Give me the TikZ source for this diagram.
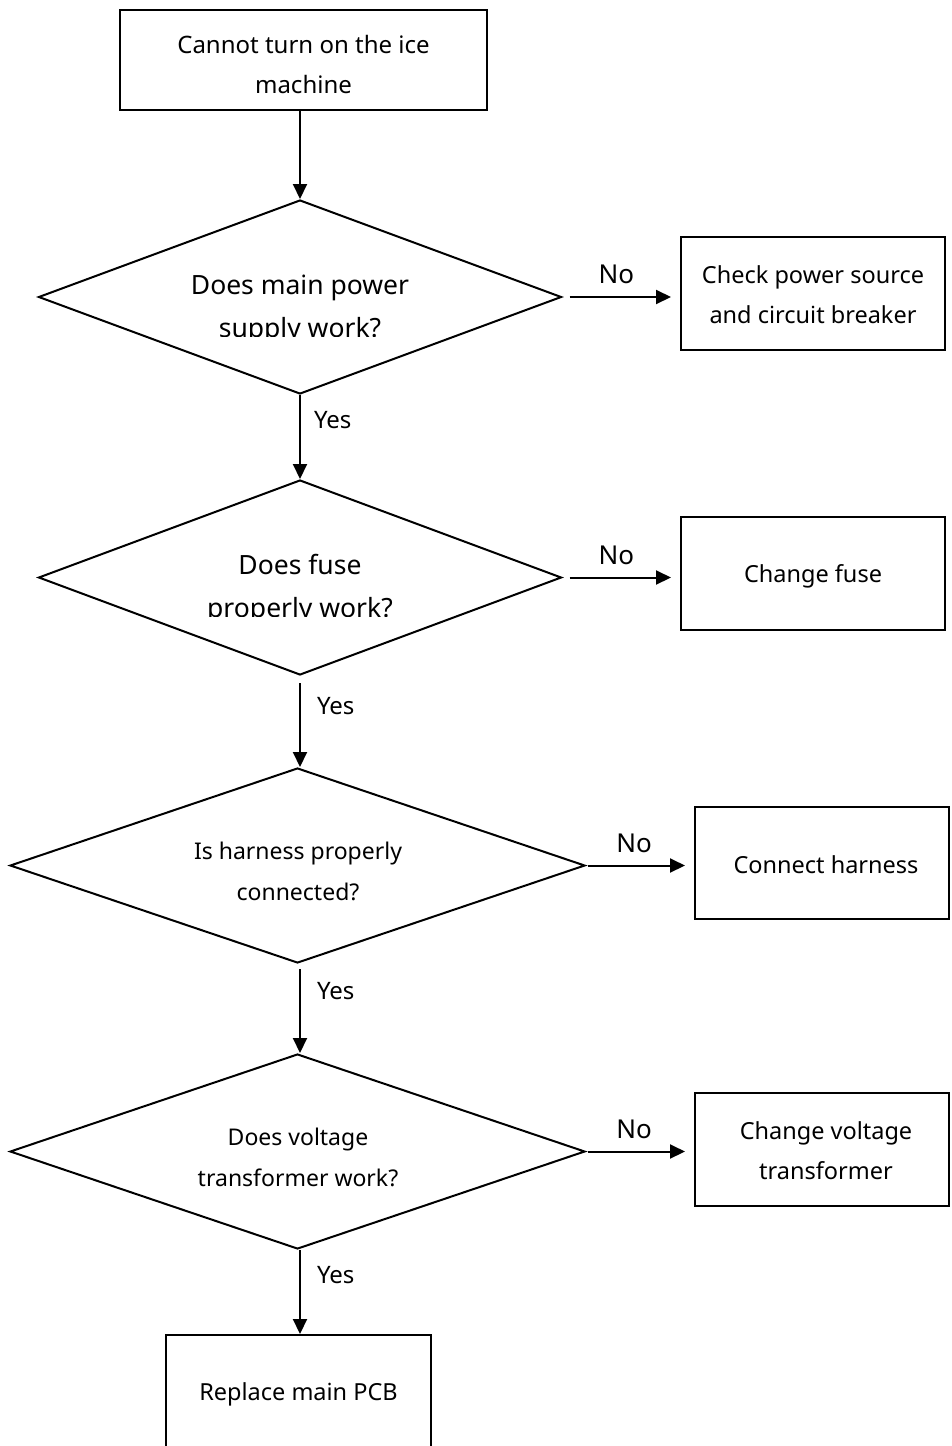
\documentclass[tikz,border=0pt]{standalone}
\usepackage{fontspec}
\setmainfont{Noto Sans}
\usetikzlibrary{shapes.geometric,arrows.meta}
\begin{document}
\begin{tikzpicture}[x=1pt,y=1pt,
  line width=2pt,
  stepbox/.style={draw,rectangle,inner sep=0pt},
  decision/.style={draw,diamond,inner sep=0pt},
  txt/.style={font=\fontsize{23.5}{40}\selectfont,align=center,inner sep=0pt},
  bigtxt/.style={font=\fontsize{26.5}{43}\selectfont,align=center,inner sep=0pt},
  qtxt/.style={font=\fontsize{23}{41}\selectfont,align=center,inner sep=0pt},
  lbl/.style={font=\fontsize{24}{28}\selectfont,inner sep=0pt},
  nolbl/.style={font=\fontsize{26}{28}\selectfont,inner sep=0pt},
  arr/.style={-{Triangle[length=15pt,width=14pt]}}]
\useasboundingbox (0,0) rectangle (951,-1446);
% boxes
\node[stepbox,minimum width=367pt,minimum height=100pt] (b1) at (303.5,-60) {};
\node[txt,font=\fontsize{24}{40}\selectfont] (t1) at (303.5,-64) {Cannot turn on the ice\\machine};
\node[stepbox,minimum width=264pt,minimum height=113pt] (b2) at (813,-293.5) {};
\node[txt] (t2) at (813,-295) {Check power source\\and circuit breaker};
\node[stepbox,minimum width=264pt,minimum height=113pt] (b3) at (813,-573.5) {};
\node[txt] (t3) at (813,-576) {Change fuse};
\node[stepbox,minimum width=254pt,minimum height=112pt] (b4) at (822,-863) {};
\node[txt] (t4) at (826,-865) {Connect harness};
\node[stepbox,minimum width=254pt,minimum height=113pt] (b5) at (822,-1149.5) {};
\node[txt] (t5) at (826,-1151) {Change voltage\\transformer};
\node[stepbox,minimum width=265pt,minimum height=250pt] (b6) at (298.5,-1460) {};
\node[txt] (t6) at (298.5,-1394) {Replace main PCB};
% diamonds
\node[decision,minimum width=523pt,minimum height=194pt] (d1) at (300,-297) {};
\node[decision,minimum width=523pt,minimum height=195pt] (d2) at (300,-577.5) {};
\node[decision,minimum width=575pt,minimum height=195pt] (d3) at (297.5,-865.5) {};
\node[decision,minimum width=575pt,minimum height=195pt] (d4) at (297.5,-1151.5) {};
\begin{scope}
\clip (100,-240) rectangle (500,-336);
\node[bigtxt] (q1) at (300,-309) {Does main power\\supply work?};
\end{scope}
\begin{scope}
\clip (100,-520) rectangle (500,-616);
\node[bigtxt] (q2) at (300,-589.5) {Does fuse\\properly work?};
\end{scope}
\node[qtxt] (q3) at (298,-871) {Is harness properly\\connected?};
\node[qtxt] (q4) at (298,-1157.5) {Does voltage\\transformer work?};
% connectors
\draw[arr] (d1.north |- b1.south) -- (d1.north);
\draw[arr,shorten <=7pt,shorten >=9pt] (d1.east) -- (b2.west |- d1.east) node[nolbl,midway,above=12pt,xshift=-5pt] {No};
\draw[arr] (d1.south) -- (d2.north) node[lbl,pos=0.3,right=13pt] {Yes};
\draw[arr,shorten <=7pt,shorten >=9pt] (d2.east) -- (b3.west |- d2.east) node[nolbl,midway,above=12pt,xshift=-5pt] {No};
\draw[arr,shorten <=7pt] (d2.south) -- (d3.north -| d2.south) node[lbl,pos=0.33,right=16pt] {Yes};
\draw[arr,shorten <=2pt,shorten >=9pt] (d3.east) -- (b4.west |- d3.east) node[nolbl,midway,above=12pt,xshift=-6pt] {No};
\draw[arr,shorten <=5pt] (d3.south -| d2.south) -- (d4.north -| d2.south) node[lbl,pos=0.3,right=16pt] {Yes};
\draw[arr,shorten <=2pt,shorten >=9pt] (d4.east) -- (b5.west |- d4.east) node[nolbl,midway,above=12pt,xshift=-6pt] {No};
\draw[arr] (d4.south -| d2.south) -- (b6.north -| d2.south) node[lbl,pos=0.3,right=16pt] {Yes};
\end{tikzpicture}
\end{document}
